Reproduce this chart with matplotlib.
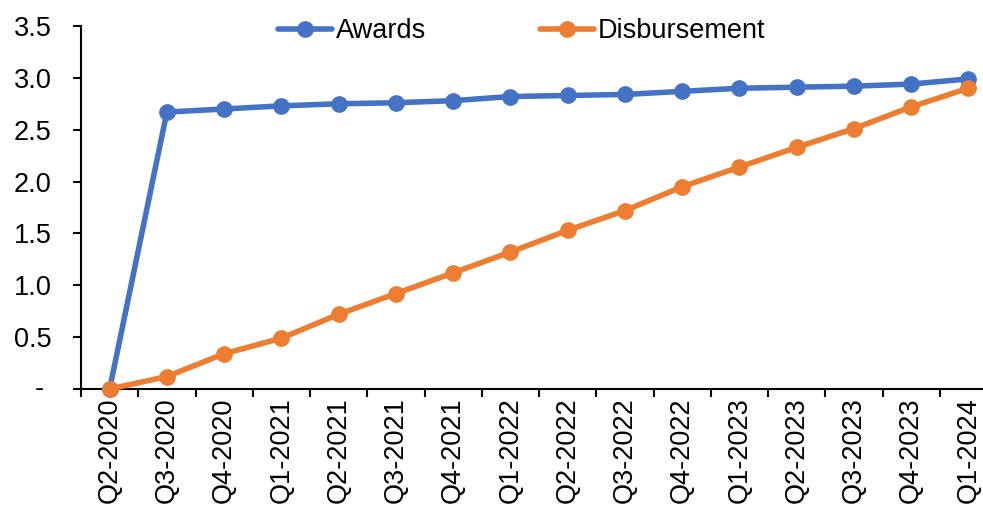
import matplotlib
matplotlib.use("Agg")
import matplotlib.pyplot as plt
from matplotlib.ticker import FuncFormatter

quarters = [
    "Q2-2020", "Q3-2020", "Q4-2020", "Q1-2021", "Q2-2021", "Q3-2021",
    "Q4-2021", "Q1-2022", "Q2-2022", "Q3-2022", "Q4-2022", "Q1-2023",
    "Q2-2023", "Q3-2023", "Q4-2023", "Q1-2024",
]
awards = [0.0, 2.67, 2.70, 2.73, 2.75, 2.76, 2.78, 2.82, 2.83, 2.84,
          2.87, 2.90, 2.91, 2.92, 2.94, 2.99]
disbursement = [0.0, 0.12, 0.34, 0.49, 0.72, 0.92, 1.12, 1.32, 1.53, 1.72,
                1.95, 2.14, 2.33, 2.51, 2.72, 2.90]

plt.rcParams["font.family"] = ["Liberation Sans", "DejaVu Sans"]
plt.rcParams["font.size"] = 19.5

fig = plt.figure(figsize=(9.83, 5.08), dpi=100)
W, H = 983, 508
left, right, top, bottom = 81, 997, 26, 389
ax = fig.add_axes([left / W, 1 - bottom / H, (right - left) / W, (bottom - top) / H])

x = list(range(len(quarters)))
ax.plot(x, awards, color="#4472C4", lw=4, marker="o", ms=11, label="Awards",
        solid_capstyle="round", clip_on=False, zorder=3)
ax.plot(x, disbursement, color="#ED7D31", lw=4, marker="o", ms=11,
        label="Disbursement", solid_capstyle="round", clip_on=False, zorder=4)

ax.set_xlim(-0.5, len(quarters) - 0.5)
ax.set_ylim(0, 3.5)
ax.set_yticks([0, 0.5, 1.0, 1.5, 2.0, 2.5, 3.0, 3.5])
ax.yaxis.set_major_formatter(FuncFormatter(lambda v, p: "" if v == 0 else f"{v:.1f}"))
# zero shown as a dash, accounting style
ax.text(-0.045, 0, "-", transform=ax.get_yaxis_transform(), ha="center", va="center")
ax.set_xticks([i - 0.5 for i in range(len(quarters) + 1)])
ax.set_xticklabels([])
ax.set_xticks(x, minor=True)
ax.set_xticklabels(quarters, minor=True, rotation=90)
ax.tick_params(axis="x", which="minor", length=0, pad=6)
ax.tick_params(axis="x", which="major", length=6, width=1.5, direction="out")
ax.tick_params(axis="y", length=6, width=1.5, direction="out", pad=15)

for s in ["top", "right"]:
    ax.spines[s].set_visible(False)
for s in ["left", "bottom"]:
    ax.spines[s].set_linewidth(1.5)

ax.legend(loc="center", bbox_to_anchor=(0.481, 0.985), ncol=2, frameon=False,
          handlelength=2.0, columnspacing=4.2, handletextpad=0.15)

fig.savefig("out.png", dpi=100)
